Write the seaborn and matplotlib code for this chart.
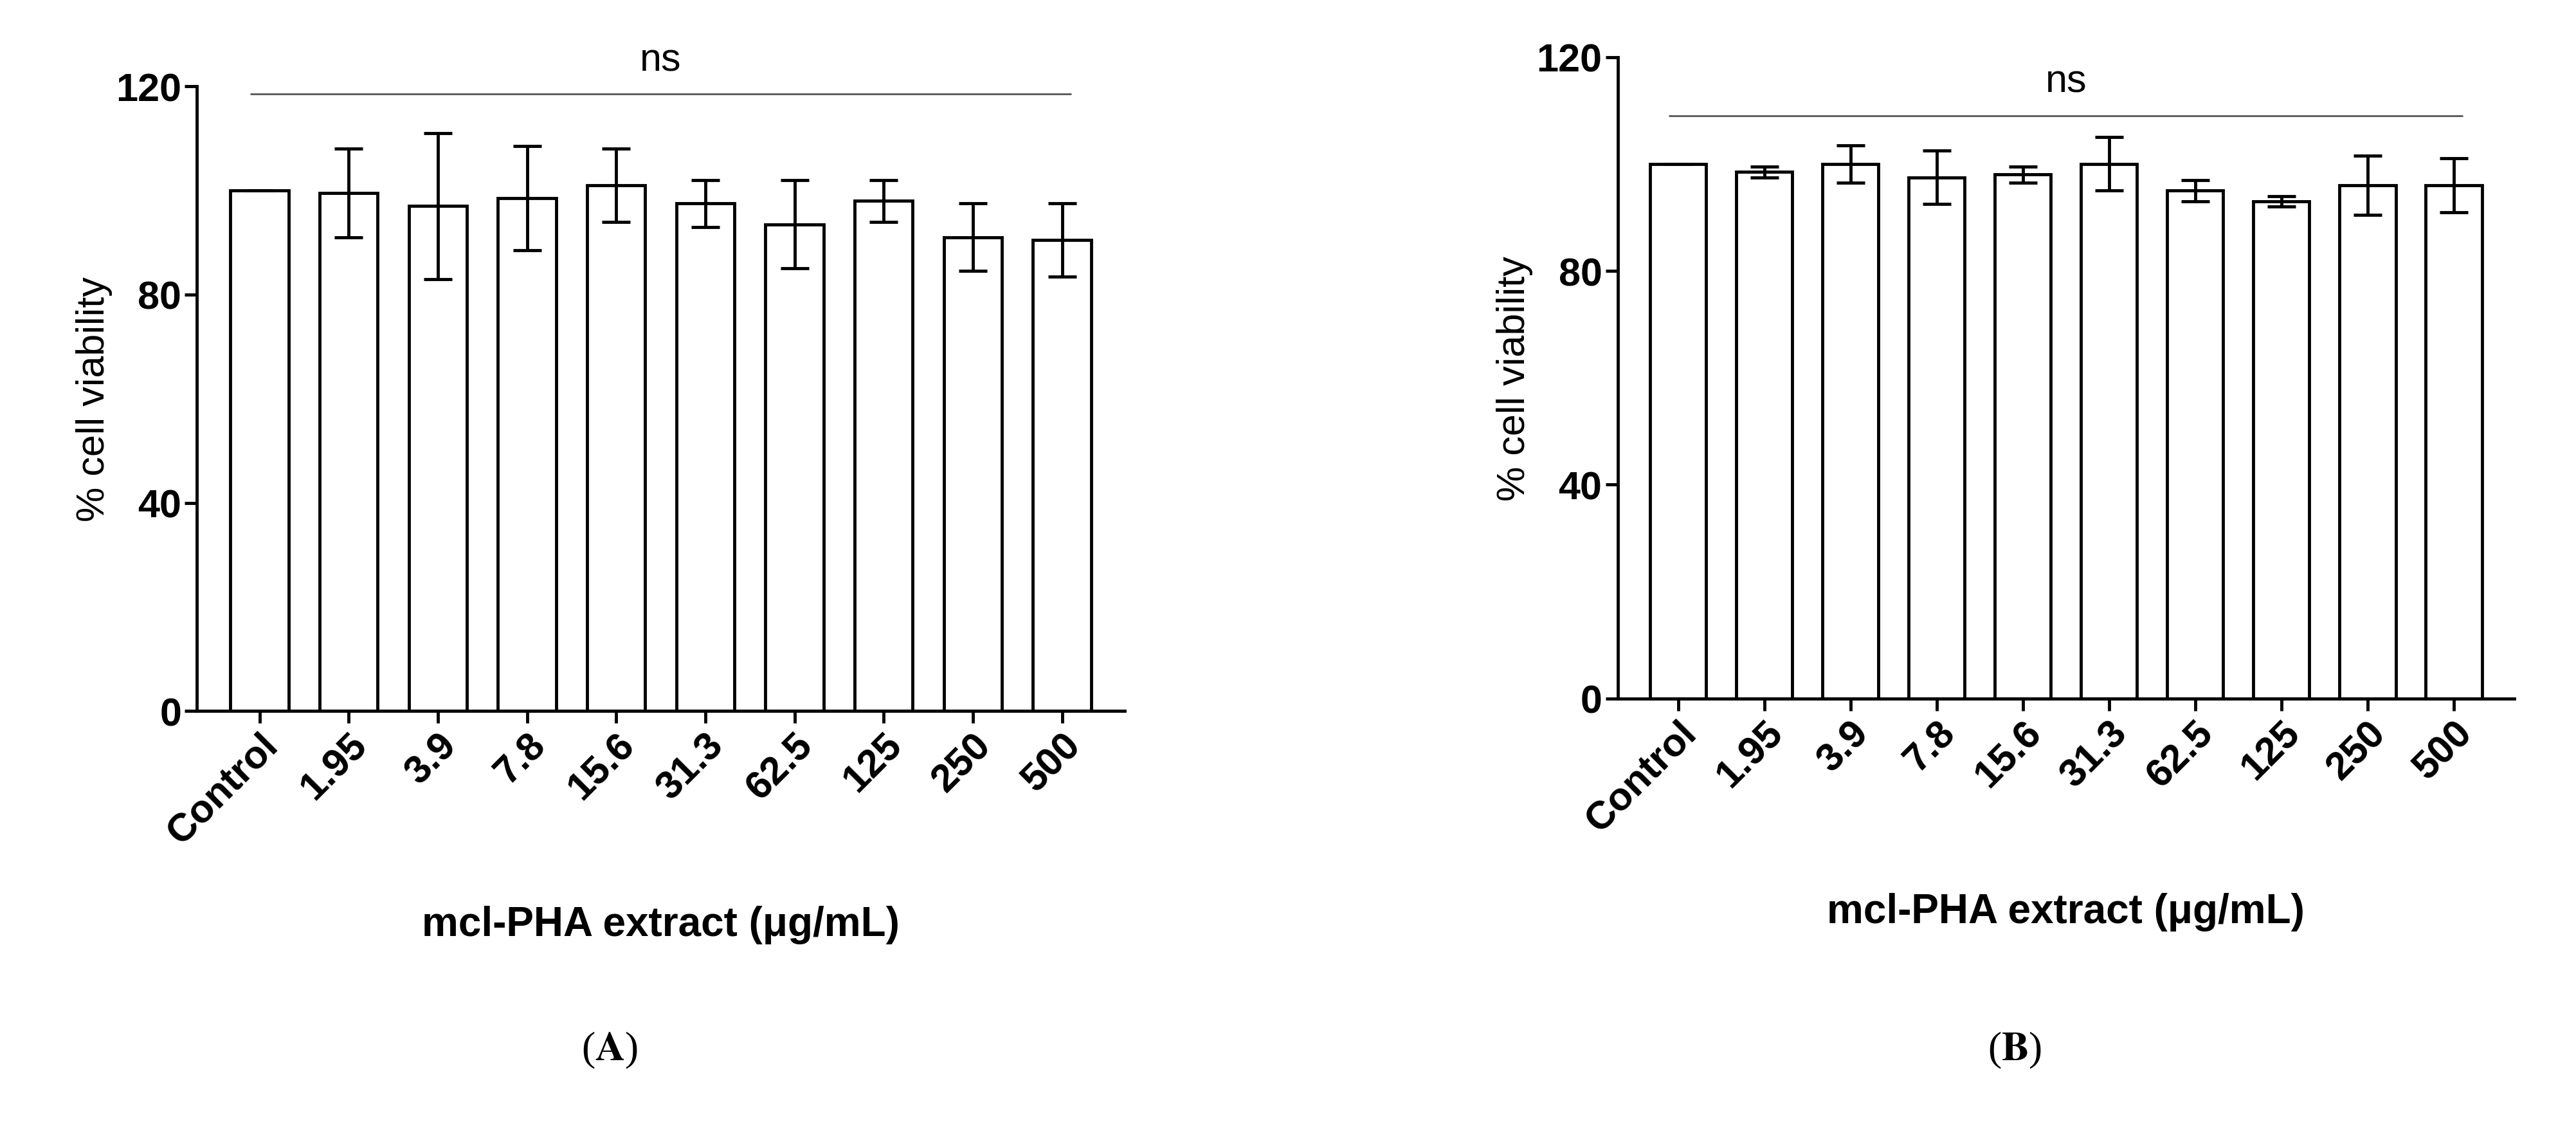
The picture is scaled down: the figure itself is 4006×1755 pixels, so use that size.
import matplotlib
matplotlib.use("Agg")
import matplotlib.pyplot as plt
import seaborn as sns
import pandas as pd

categories = ["Control", "1.95", "3.9", "7.8", "15.6", "31.3", "62.5", "125", "250", "500"]
mean_A = [100, 99.5, 97, 98.5, 101, 97.5, 93.5, 98, 91, 90.5]
err_A = [0, 8.5, 14, 10, 7, 4.5, 8.5, 4, 6.5, 7]
mean_B = [100, 98.5, 100, 97.5, 98, 100, 95, 93, 96, 96]
err_B = [0, 1, 3.5, 5, 1.5, 5, 2, 1, 5.5, 5]
yticks = [0, 40, 80, 120]

sns.set_theme(style="ticks")
plt.rcParams['font.family'] = ['Liberation Sans', 'DejaVu Sans']
plt.rcParams['mathtext.fontset'] = 'stix'
for k in ["text.color", "axes.labelcolor", "xtick.color", "ytick.color", "axes.edgecolor"]:
    plt.rcParams[k] = "black"

fig = plt.figure(figsize=(40.06, 17.56), dpi=100)
lw = 3.5
panels = [
    ([0.0765, 0.370, 0.36, 0.553], mean_A, err_A, 118.5, "A"),
    ([0.628, 0.381, 0.348, 0.568], mean_B, err_B, 109, "B"),
]
for rect, m, e, nsy, lab in panels:
    ax = fig.add_axes(rect)
    df = pd.DataFrame({"c": categories, "v": m})
    sns.barplot(data=df, x="c", y="v", ax=ax, color="white", edgecolor="black",
                linewidth=lw, width=0.65, saturation=1)
    ax.errorbar(range(len(categories)), m, yerr=e, fmt="none", ecolor="black",
                elinewidth=lw, capsize=16, capthick=lw)
    ax.set_ylim(0, 120)
    ax.set_xlim(-0.7, len(categories) - 0.3)
    ax.set_yticks(yticks)
    for s in ["top", "right"]:
        ax.spines[s].set_visible(False)
    for s in ["left", "bottom"]:
        ax.spines[s].set_linewidth(lw)
    ax.tick_params(width=lw, length=14, direction="out", labelsize=44)
    for t in ax.get_yticklabels():
        t.set_fontweight("bold")
    ax.set_xticks(range(len(categories)))
    ax.set_xticklabels(categories, rotation=45, ha="right", rotation_mode="anchor",
                       fontweight="bold", fontsize=44)
    ax.set_xlabel("mcl-PHA extract (μg/mL)", fontsize=46, fontweight="bold", labelpad=60)
    ax.set_ylabel("% cell viability", fontsize=44)
    ax.plot([-0.1, len(categories) - 1 + 0.1], [nsy, nsy], color="#555555", lw=2, clip_on=False)
    ax.text((len(categories) - 1) / 2, nsy + 3, "ns", ha="center", va="bottom", fontsize=44, clip_on=False)
    cx = rect[0] + rect[2] / 2
    fig.text(cx - 0.02, 0.07, r"($\mathbf{" + lab + "}$)", ha="center", va="center",
             fontsize=46, family="Liberation Serif")

fig.savefig("out.png", dpi=100, facecolor="white")
